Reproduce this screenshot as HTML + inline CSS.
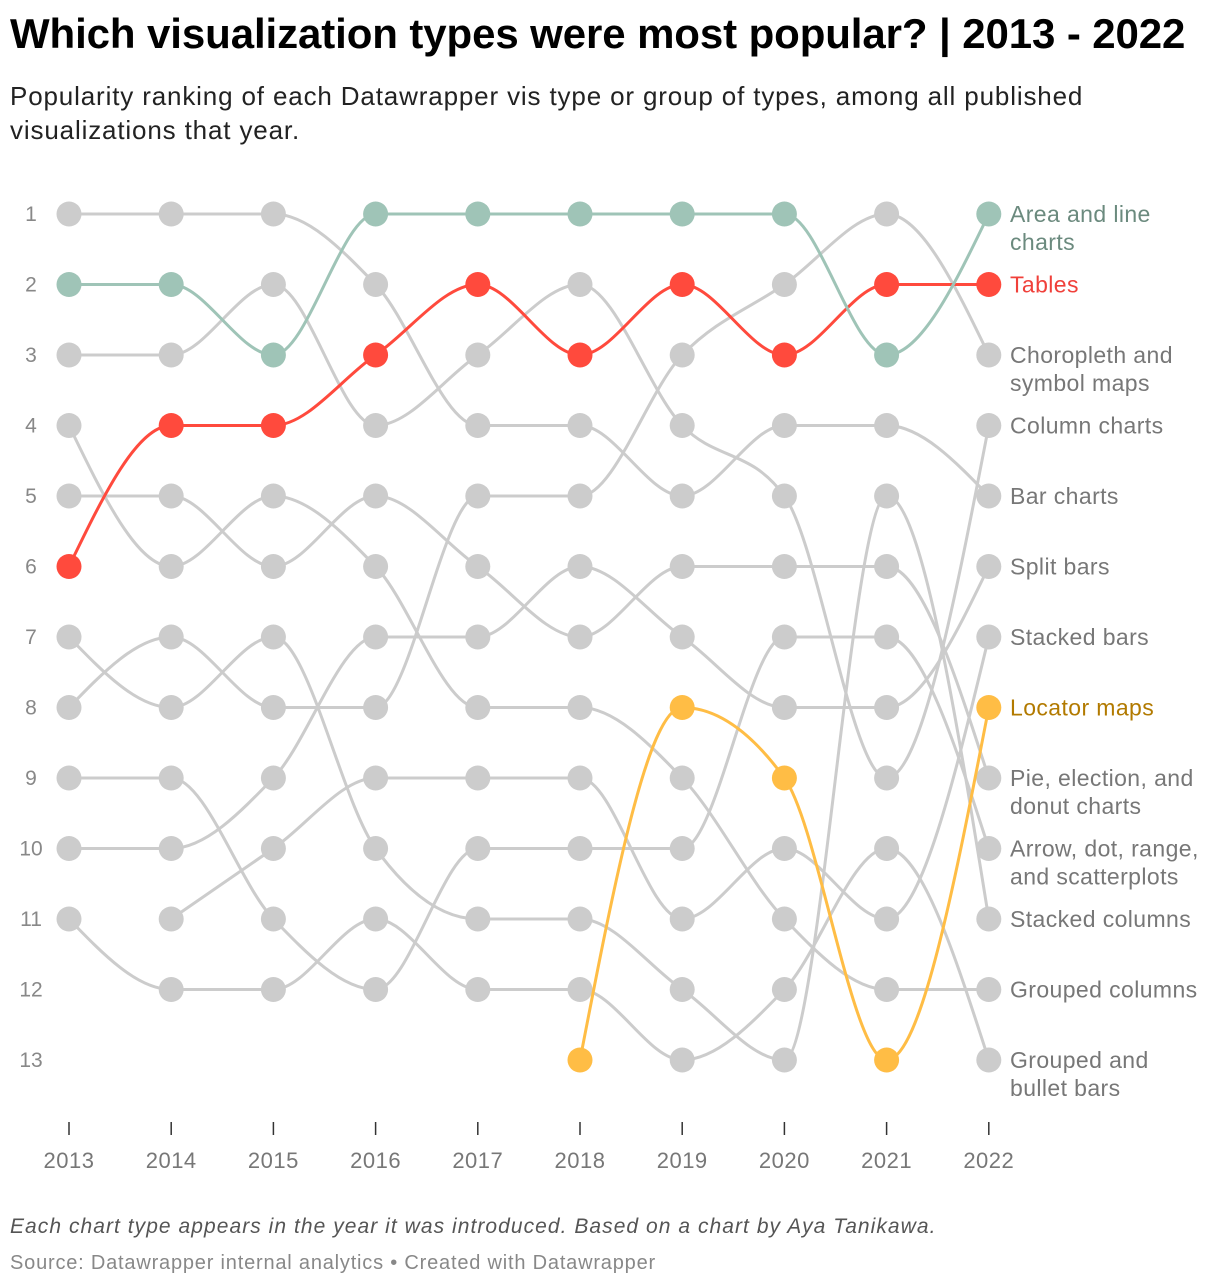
<!DOCTYPE html>
<html><head><meta charset="utf-8">
<style>
body{margin:0;background:#fff;font-family:"Liberation Sans",Arial,sans-serif;}
#wrap{position:relative;width:1220px;height:1288px;overflow:hidden;}
h1{position:absolute;left:10px;top:10px;margin:0;font-size:42px;font-weight:bold;color:#000;letter-spacing:-0.1px;white-space:nowrap;}
.sub{position:absolute;left:10px;top:79px;font-size:26px;line-height:34px;color:#222;width:1110px;letter-spacing:0.85px;}
.note{position:absolute;left:10px;top:1215px;font-size:21px;font-style:italic;color:#555;letter-spacing:1.05px;white-space:nowrap;}
.src{position:absolute;left:10px;top:1252px;font-size:20px;color:#888;letter-spacing:0.8px;white-space:nowrap;}
svg{position:absolute;left:0;top:0;}
</style></head><body>
<div id="wrap">
<h1>Which visualization types were most popular? | 2013 - 2022</h1>
<div class="sub">Popularity ranking of each Datawrapper vis type or group of types, among all published visualizations that year.</div>
<svg id="chart" width="1220" height="1288"></svg>
<div class="note">Each chart type appears in the year it was introduced. Based on a chart by Aya Tanikawa.</div>
<div class="src">Source: Datawrapper internal analytics • Created with Datawrapper</div>
</div>
<script>
const years = [2013,2014,2015,2016,2017,2018,2019,2020,2021,2022];
const rankTicks = [1,2,3,4,5,6,7,8,9,10,11,12,13];
const areaLine = [2,2,3,1,1,1,1,1,3,1];
const tables = [6,4,4,3,2,3,2,3,2,2];
const choropleth = [8,7,8,8,5,5,3,2,1,3];
const columnCharts = [3,3,2,4,3,2,4,5,9,4];
const barCharts = [1,1,1,2,4,4,5,4,4,5];
const splitBars = [10,10,9,7,7,6,7,8,8,6];
const stackedBars = [null,11,10,9,9,9,11,10,11,7];
const locatorMaps = [null,null,null,null,null,13,8,9,13,8];
const pieCharts = [5,5,6,5,6,7,6,6,6,9];
const arrowDot = [9,9,11,12,10,10,10,7,7,10];
const stackedColumns = [7,8,7,10,11,11,12,13,5,11];
const groupedColumns = [4,6,5,6,8,8,9,11,12,12];
const groupedBullet = [11,12,12,11,12,12,13,12,10,13];

const series = [
 {name:"Choropleth and symbol maps",lines:["Choropleth and","symbol maps"],data:choropleth,c:"#cccccc",t:"#777"},
 {name:"Column charts",lines:["Column charts"],data:columnCharts,c:"#cccccc",t:"#777"},
 {name:"Bar charts",lines:["Bar charts"],data:barCharts,c:"#cccccc",t:"#777"},
 {name:"Split bars",lines:["Split bars"],data:splitBars,c:"#cccccc",t:"#777"},
 {name:"Stacked bars",lines:["Stacked bars"],data:stackedBars,c:"#cccccc",t:"#777"},
 {name:"Pie, election, and donut charts",lines:["Pie, election, and","donut charts"],data:pieCharts,c:"#cccccc",t:"#777"},
 {name:"Arrow, dot, range, and scatterplots",lines:["Arrow, dot, range,","and scatterplots"],data:arrowDot,c:"#cccccc",t:"#777"},
 {name:"Stacked columns",lines:["Stacked columns"],data:stackedColumns,c:"#cccccc",t:"#777"},
 {name:"Grouped columns",lines:["Grouped columns"],data:groupedColumns,c:"#cccccc",t:"#777"},
 {name:"Grouped and bullet bars",lines:["Grouped and","bullet bars"],data:groupedBullet,c:"#cccccc",t:"#777"},
 {name:"Locator maps",lines:["Locator maps"],data:locatorMaps,c:"#ffbd45",t:"#b27a00"},
 {name:"Tables",lines:["Tables"],data:tables,c:"#ff4a3d",t:"#f0403a"},
 {name:"Area and line charts",lines:["Area and line","charts"],data:areaLine,c:"#9fc4b7",t:"#6b8a7e"}
];

const NS="http://www.w3.org/2000/svg";
const svg=document.getElementById('chart');
const xS=y=>69+(y-2013)*102.2;
const yS=r=>214+(r-1)*70.5;
function mk(tag,attrs,parent){const e=document.createElementNS(NS,tag);for(const k in attrs)e.setAttribute(k,attrs[k]);(parent||svg).appendChild(e);return e;}

rankTicks.forEach(r=>{
 const t=mk('text',{x:31,y:yS(r)+7,'text-anchor':'middle','font-size':21,fill:'#888','font-family':'Liberation Sans, sans-serif'});
 
 
 t.textContent=r;
});
years.forEach(y=>{
 const l=mk('line',{x1:xS(y),x2:xS(y),y1:1122,y2:1135,stroke:'#333','stroke-width':1.5});
 
 
 const t=mk('text',{x:xS(y),y:1168,'text-anchor':'middle','font-size':22,fill:'#777','font-family':'Liberation Sans, sans-serif','letter-spacing':0.5});
 
 
 t.textContent=y;
});

function monoPath(pts){
 const n=pts.length;
 if(n<2)return '';
 const h=[],s=[];
 for(let i=0;i<n-1;i++){h.push(pts[i+1][0]-pts[i][0]);s.push((pts[i+1][1]-pts[i][1])/h[i]);}
 const t=new Array(n).fill(0);
 for(let i=1;i<n-1;i++){
  const s0=s[i-1],s1=s[i],p=(s0*h[i]+s1*h[i-1])/(h[i-1]+h[i]);
  t[i]=(Math.sign(s0)+Math.sign(s1))*Math.min(Math.abs(s0),Math.abs(s1),0.5*Math.abs(p))||0;
 }
 if(n>2){t[0]=(3*s[0]-t[1])/2;t[n-1]=(3*s[n-2]-t[n-2])/2;}else{t[0]=t[1]=s[0];}
 let d='M'+pts[0][0]+','+pts[0][1];
 for(let i=0;i<n-1;i++){
  const dx=h[i]/3;
  d+=' C'+(pts[i][0]+dx)+','+(pts[i][1]+dx*t[i])+' '+(pts[i+1][0]-dx)+','+(pts[i+1][1]-dx*t[i+1])+' '+pts[i+1][0]+','+pts[i+1][1];
 }
 return d;
}

series.forEach(se=>{
 const g=mk('g',{});
 
 
 const pts=[];
 se.data.forEach((r,i)=>{if(r!=null)pts.push([xS(years[i]),yS(r)]);});
 const p=mk('path',{d:monoPath(pts),fill:'none',stroke:se.c,'stroke-width':3},g);
 
 
 se.data.forEach((r,i)=>{
  if(r==null)return;
  const c=mk('circle',{cx:xS(years[i]),cy:yS(r),r:12.5,fill:se.c},g);
  
  
 });
 const last=se.data[se.data.length-1];
 const lab=mk('text',{x:1010,y:yS(last)+8,'font-size':23,fill:se.t,'font-family':'Liberation Sans, sans-serif','letter-spacing':0.4},g);
 
 
 se.lines.forEach((ln,k)=>{const ts=mk('tspan',{x:1010,dy:k?28:0},lab);ts.textContent=ln;});
});
</script>
</body></html>
